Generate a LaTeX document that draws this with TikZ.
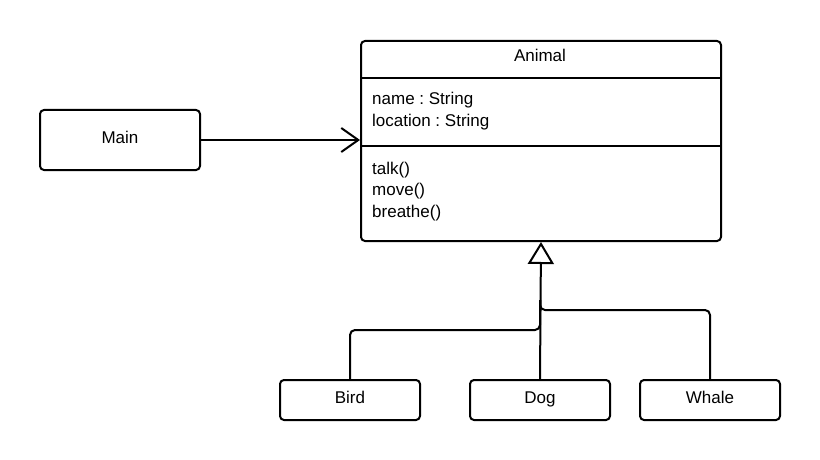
\documentclass[tikz,border=0pt]{standalone}
\usepackage{fontspec}
\setmainfont{Liberation Sans}
\frenchspacing
\usetikzlibrary{arrows.meta}
\begin{document}
\begin{tikzpicture}[x=1pt,y=-1pt,
  box/.style={draw=black,line width=2pt,rounded corners=4pt,fill=white,inner sep=0pt},
  lbl/.style={inner sep=0pt,font=\fontsize{17}{21}\selectfont\frenchspacing},
  cen/.style={text height=12pt,text depth=5.6pt},
  link/.style={draw=black,line width=2pt},
  assoc/.style={link,-{Straight Barb[length=17pt,width=24pt]}},
  gen/.style={link,-{Triangle[open,length=22pt,width=26pt,fill=white]}},
  branch/.style={link,rounded corners=5pt}]
\useasboundingbox (0,0) rectangle (820,460);
% Animal class
\node[box,minimum width=360pt,minimum height=200pt,anchor=north west] (anim) at (360,40) {};
\coordinate (d1) at (360,78);
\coordinate (d2) at (360,146);
\draw[link] (d1) -- (d1 -| anim.east);
\draw[link] (d2) -- (d2 -| anim.east);
\node[lbl,anchor=base] (title) at (540,62) {Animal};
\node[lbl,anchor=base west] (a1) at (372,105) {name : String};
\node[lbl,anchor=base west] (a2) at (372,126) {location : String};
\node[lbl,anchor=base west] (m1) at (372,174) {talk()};
\node[lbl,anchor=base west] (m2) at (372,195) {move()};
\node[lbl,anchor=base west] (m3) at (372,217) {breathe()};
% Main
\node[box,lbl,cen,minimum width=160pt,minimum height=60pt] (main) at (120,140) {Main};
% subclasses
\node[box,lbl,cen,minimum width=140pt,minimum height=40pt] (bird) at (350,400) {Bird};
\node[box,lbl,cen,minimum width=140pt,minimum height=40pt] (dog) at (540,400) {Dog};
\node[box,lbl,cen,minimum width=140pt,minimum height=40pt] (whale) at (710,400) {Whale};
% connectors
\draw[assoc] (main.east) -- (main.east -| anim.west);
\coordinate (jb) at (540,330);
\coordinate (jw) at (540,310);
\coordinate (jt) at (540,300);
\draw[branch] (bird.north) |- (jb) -- (jt);
\draw[branch] (whale.north) |- (jw) -- (jt);
\draw[gen] (dog.north) -- (anim.south);
\end{tikzpicture}
\end{document}
